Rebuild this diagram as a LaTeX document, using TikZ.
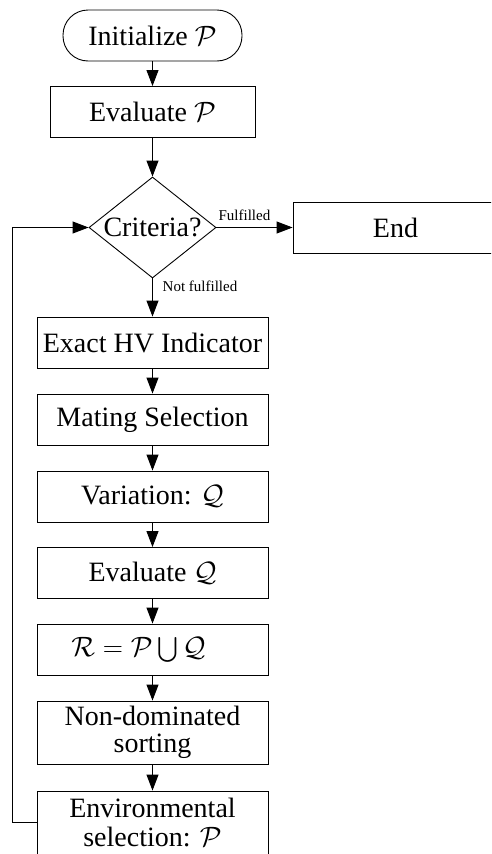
\RequirePackage{fix-cm}
\documentclass[tikz,border=0pt]{standalone}
\usepackage{exscale}
\usepackage{fontspec}
\setmainfont{Liberation Serif}
\usetikzlibrary{shapes.geometric,arrows.meta}

\tikzset{
  flow/.style={line width=0.9pt, -{Triangle[length=16pt,width=12pt]}},
  stepbox/.style={draw, line width=0.9pt, rectangle, inner sep=0pt, align=center,
    minimum width=231pt, minimum height=51pt,
    font=\fontsize{28}{27}\selectfont},
  tallbox/.style={stepbox, minimum height=63pt},
  startbox/.style={stepbox, minimum width=179pt, rounded corners=25pt},
  narrowbox/.style={stepbox, minimum width=205pt},
  decision/.style={draw, line width=0.9pt, diamond, inner sep=0pt, aspect=1.257,
    minimum width=127pt, minimum height=101pt,
    font=\fontsize{28}{27}\selectfont},
  edgelabel/.style={inner sep=0pt, font=\fontsize{15}{17}\selectfont}
}

\begin{document}
\begin{tikzpicture}[x=1pt, y=-1pt]
  \useasboundingbox (0,0) rectangle (491,854);
  \clip (0,0) rectangle (491,854);

  % main column of the algorithm
  \node[startbox]  (init)   at (152.5, 35.5)  {Initialize $\mathcal{P}$};
  \node[narrowbox] (evalP)  at (152.5, 112)   {Evaluate $\mathcal{P}$};
  \node[decision]  (crit)   at (152.5, 227.5) {Criteria?};
  \node[narrowbox] (finish) at (395.5, 227.5) {End};
  \node[stepbox]   (exact)  at (152.5, 342.5) {Exact HV Indicator};
  \node[stepbox]   (mating) at (152.5, 419.5) {Mating Selection};
  \node[stepbox]   (vary)   at (152.5, 496.5) {Variation: $\mathcal{Q}$};
  \node[stepbox]   (evalQ)  at (152.5, 573)   {Evaluate $\mathcal{Q}$};
  \node[stepbox]   (merge)  at (152.5, 649.5) {$\mathcal{R} = \mathcal{P} \bigcup \mathcal{Q}$\hspace*{28pt}};
  \node[tallbox]   (nds)    at (152.5, 732.5) {Non-dominated\\sorting};
  \node[tallbox]   (envsel) at (152.5, 822.5) {Environmental\\[2pt]selection: $\mathcal{P}$};

  % forward connectors
  \draw[flow] (init)   -- (evalP);
  \draw[flow] (evalP)  -- (crit);
  \draw[flow] (crit.east) -- (finish.west);
  \draw[flow] (crit.south) -- (exact.north);
  \draw[flow] (exact)  -- (mating);
  \draw[flow] (mating) -- (vary);
  \draw[flow] (vary)   -- (evalQ);
  \draw[flow] (evalQ)  -- (merge);
  \draw[flow] (merge)  -- (nds);
  \draw[flow] (nds)    -- (envsel);

  % loop back to the stopping test
  \coordinate (loopbot) at (12, 822.5);
  \coordinate (looptop) at (12, 227.5);
  \draw[flow] (envsel.west) -- (loopbot) -- (looptop) -- (crit.west);

  % branch labels
  \node[edgelabel, anchor=south west] (lblyes) at ([xshift=2pt, yshift=7pt]crit.east) {Fulfilled};
  \node[edgelabel, anchor=north west] (lblno)  at ([xshift=10pt, yshift=-2pt]crit.south) {Not fulfilled};
\end{tikzpicture}
\end{document}
